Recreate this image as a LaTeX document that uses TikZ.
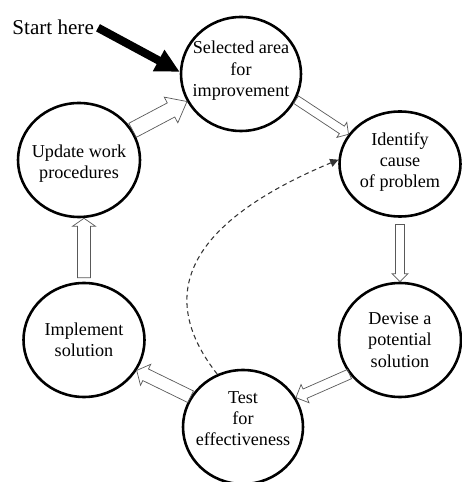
\documentclass[tikz,border=0pt]{standalone}
\usepackage{fontspec}
\setmainfont{Liberation Serif}
\usetikzlibrary{calc,arrows.meta,positioning,shapes.geometric}

\tikzset{
  stage/.style={ellipse, draw, line width=2.2pt, inner sep=0pt,
    minimum width=3.6cm, minimum height=3.42cm},
  stagetext/.style={align=center, inner sep=0pt, font=\fontsize{15.5}{18}\selectfont},
  arrowsize/.code args={#1/#2/#3}{\def\shw{#1}\def\hdw{#2}\def\hdl{#3}},
  hollow/.style={draw=black!65, line width=0.6pt, line join=miter,
    to path={($(\tikztostart)!\shw!90:(\tikztotarget)$)
      -- ($(\tikztotarget)!\hdl!(\tikztostart)!\shw!-90:(\tikztostart)$)
      -- ($(\tikztotarget)!\hdl!(\tikztostart)!\hdw!-90:(\tikztostart)$)
      -- (\tikztotarget)
      -- ($(\tikztotarget)!\hdl!(\tikztostart)!\hdw!90:(\tikztostart)$)
      -- ($(\tikztotarget)!\hdl!(\tikztostart)!\shw!90:(\tikztostart)$)
      -- ($(\tikztostart)!\shw!-90:(\tikztotarget)$) -- cycle}},
  dashcurve/.style={draw=black!80, line width=0.9pt, dash pattern=on 4pt off 3pt,
    -{Triangle[length=7pt, width=7pt]}},
}

\begin{document}
\begin{tikzpicture}
  \useasboundingbox (0,0) rectangle (13.86,14.46);

  \node[stage] (sel) at (7.23, 12.24) {};
  \node[stage, minimum height=3.15cm, minimum width=3.63cm] (idf) at (12.0, 9.54) {};
  \node[stage, minimum width=3.66cm] (dev) at (12.0, 4.26) {};
  \node[stage] (tst) at (7.29, 1.65) {};
  \node[stage, minimum width=3.63cm] (imp) at (2.52, 4.26) {};
  \node[stage, minimum width=3.66cm] (upd) at (2.37, 9.66) {};

  \node[stagetext] (selt) at ($(sel)+(0,0.1)$) {Selected area\\for\\improvement};
  \node[stagetext] (idft) at ($(idf)+(0,0.06)$) {Identify\\cause\\of problem};
  \node[stagetext] (devt) at (dev) {Devise a\\potential\\solution};
  \node[stagetext] (tstt) at ($(tst)+(0,0.24)$) {Test\\for\\effectiveness};
  \node[stagetext] (impt) at (imp) {Implement\\solution};
  \node[stagetext] (updt) at ($(upd)+(0,-0.1)$) {Update work\\procedures};

  \node[font=\fontsize{18}{20}\selectfont, anchor=base west] (start) at (0.25, 13.41) {Start here};
  \draw[line width=7pt, -{Triangle[length=0.72cm, width=0.68cm]}] (start.east) -- (sel.178);

  % cycle arrows
  \coordinate (gap2) at ($(idf.south)+(0,-0.2)$);
  \coordinate (gap5) at ($(imp.north)+(0,0.12)$);
  \draw[hollow, arrowsize=3.8pt/7.7pt/6.8pt] (sel.-25) to (idf.150);
  \draw[hollow, arrowsize=3.8pt/6.8pt/6.8pt] (gap2) to (gap2 |- dev.north);
  \draw[hollow, arrowsize=4.3pt/8.5pt/8.5pt] (dev.214) to (tst.29);
  \draw[hollow, arrowsize=5.5pt/10pt/8.5pt] (tst.150) to (imp.-30);
  \draw[hollow, arrowsize=5.5pt/9.8pt/6.8pt] (gap5) to (gap5 |- upd.south);
  \draw[hollow, arrowsize=6.8pt/12.4pt/15.4pt] (upd.29) to (sel.207);

  \draw[dashcurve] (tst.116) .. controls (4.3,6.06) and (6.4,8.1) .. (idf.176);
\end{tikzpicture}
\end{document}
